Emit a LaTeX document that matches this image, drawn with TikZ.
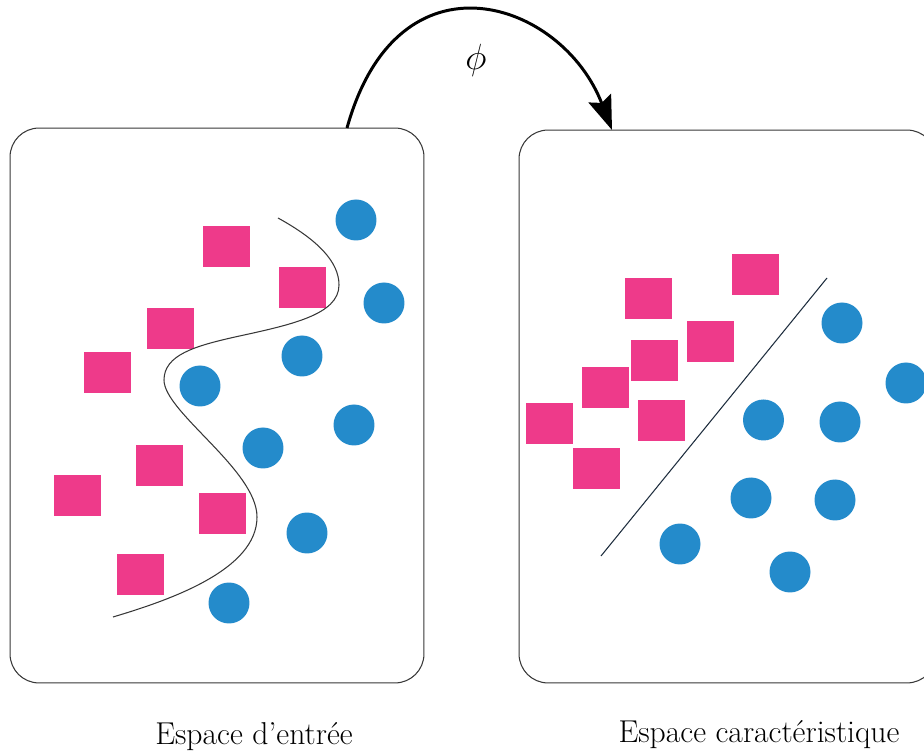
\documentclass[tikz,border=0pt]{standalone}
\usepackage{tikz}
\usetikzlibrary{arrows.meta, positioning}
\definecolor{dotpink}{RGB}{238, 58, 138}
\definecolor{dotblue}{RGB}{36, 139, 203}
\definecolor{framegray}{RGB}{55, 55, 55}
\definecolor{sepnavy}{RGB}{30, 45, 62}

\begin{document}
\begin{tikzpicture}[x=0.02cm, y=-0.02cm]
\tikzstyle{espace} = [rectangle, rounded corners=0.58cm, draw=framegray, line width=0.6pt]
\tikzstyle{carre} = [rectangle, fill=dotpink, minimum width=0.94cm, minimum height=0.82cm, inner sep=0pt]
\tikzstyle{rond} = [circle, fill=dotblue, minimum size=0.82cm, inner sep=0pt]
\tikzstyle{arrow} = [line width=1.7pt, -{Stealth[length=0.68cm, width=0.48cm, inset=0.1cm]}]
\tikzstyle{legende} = [font=\fontsize{18}{21}\selectfont]

\useasboundingbox (0,0) rectangle (924,756);

% the two spaces
\node (entree) [espace, minimum width=8.28cm, minimum height=11.1cm] at (217,405.5) {};
\node (carac) [espace, minimum width=8.34cm, minimum height=11.06cm] at (727.5,406.5) {};

% input space: squares
\node (e1) [carre] at (226.5,246.5) {};
\node (e2) [carre] at (302.5,287.5) {};
\node (e3) [carre] at (170.5,328.5) {};
\node (e4) [carre] at (107.5,372.5) {};
\node (e5) [carre] at (159.5,465.5) {};
\node (e6) [carre] at (77.5,495.5) {};
\node (e7) [carre] at (222.5,513.5) {};
\node (e8) [carre] at (140.5,574.5) {};

% input space: circles
\node (r1) [rond] at (356,220) {};
\node (r2) [rond] at (384,303) {};
\node (r3) [rond] at (302,356) {};
\node (r4) [rond] at (200,386) {};
\node (r5) [rond] at (354,425) {};
\node (r6) [rond] at (263,448) {};
\node (r7) [rond] at (307,533) {};
\node (r8) [rond] at (229,603) {};

% non linear frontier
\draw[framegray, line width=0.6pt] (278,218) .. controls (318,240) and (339,262) .. (339,285)
  .. controls (339,315) and (290,325) .. (235,337)
  .. controls (195,346) and (164,355) .. (164,380)
  .. controls (164,412) and (257,470) .. (257,517)
  .. controls (257,570) and (170,600) .. (113,617);

% feature space: squares
\node (c1) [carre] at (648.5,298.5) {};
\node (c2) [carre] at (755.5,274.5) {};
\node (c3) [carre] at (710.5,341.5) {};
\node (c4) [carre] at (654.5,360.5) {};
\node (c5) [carre] at (605.5,387.5) {};
\node (c6) [carre] at (661.5,420.5) {};
\node (c7) [carre] at (549.5,423.5) {};
\node (c8) [carre] at (596.5,468.5) {};

% feature space: circles
\node (s1) [rond] at (842,323) {};
\node (s2) [rond] at (906,383) {};
\node (s3) [rond] at (763.5,420) {};
\node (s4) [rond] at (840,422) {};
\node (s5) [rond] at (751,498) {};
\node (s6) [rond] at (835,500) {};
\node (s7) [rond] at (680,544) {};
\node (s8) [rond] at (790,572) {};

% linear frontier
\draw[sepnavy, line width=0.6pt] (601,556) -- (827,278);

% the map phi
\coordinate (depart) at (347,128);
\coordinate (arrivee) at (612,130);
\draw [arrow] (depart) .. controls (398,-55) and (562,0) .. (arrivee);
\node (phi) [font=\fontsize{22}{24}\selectfont] at (476,60) {$\phi$};

\node (lentree) [legende] at (254,737) {Espace d’entrée};
\node (lcarac) [legende] at (759,735) {Espace caractéristique};
\end{tikzpicture}
\end{document}
